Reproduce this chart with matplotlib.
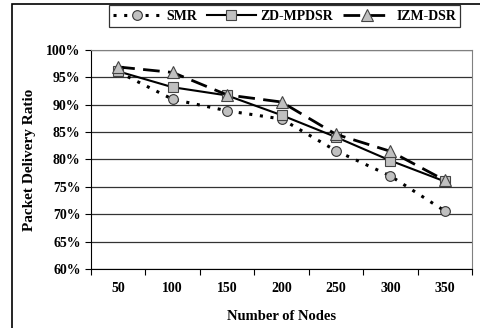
import numpy as np
import matplotlib
matplotlib.use("Agg")
import matplotlib.pyplot as plt
from matplotlib.patches import Rectangle

nodes = ["50", "100", "150", "200", "250", "300", "350"]
smr = [96.0, 91.0, 88.9, 87.4, 81.6, 77.0, 70.6]
zd_mpdsr = [96.1, 93.2, 91.7, 88.1, 84.1, 79.8, 76.0]
izm_dsr = [96.9, 95.9, 91.8, 90.5, 84.6, 81.5, 76.2]

plt.rcParams['font.family'] = ['Liberation Serif', 'DejaVu Serif']
plt.rcParams['font.weight'] = 'bold'

fig = plt.figure(figsize=(4.8, 3.28), dpi=100)
ax = fig.add_axes([91/480, 1-269/328, (472-91)/480, (269-50)/328])

x = np.arange(len(nodes))
mfc = '#c0c0c0'
ax.plot(x, smr, color='black', linestyle=(0, (1, 2.5)), linewidth=2.2,
        marker='o', markersize=7, markerfacecolor=mfc, markeredgecolor='#333333',
        markeredgewidth=0.8, label='SMR', zorder=3)
ax.plot(x, zd_mpdsr, color='black', linestyle='-', linewidth=1.5,
        marker='s', markersize=7, markerfacecolor=mfc, markeredgecolor='#444444',
        markeredgewidth=0.8, label='ZD-MPDSR', zorder=4)
ax.plot(x, izm_dsr, color='black', linestyle=(0, (6, 3)), linewidth=2.0,
        marker='^', markersize=8, markerfacecolor=mfc, markeredgecolor='#444444',
        markeredgewidth=0.8, label='IZM-DSR', zorder=5)

ax.set_xlim(-0.5, len(nodes) - 0.5)
ax.set_ylim(60, 100)
ax.set_xticks(np.arange(-0.5, len(nodes), 1.0))
ax.set_xticklabels([])
ax.set_xticks(x, minor=True)
ax.set_xticklabels(nodes, minor=True)
ax.tick_params(axis='x', which='minor', length=0, pad=9, labelsize=10)
ax.tick_params(axis='x', which='major', length=4, direction='out', width=0.8)
yt = np.arange(60, 101, 5)
ax.set_yticks(yt)
ax.set_yticklabels([f"{v}%" for v in yt])
ax.tick_params(axis='y', length=4, direction='out', width=0.8, labelsize=10)

ax.yaxis.grid(True, color='#333333', linewidth=0.9)
ax.set_axisbelow(True)
ax.spines['top'].set_color('#808080')
ax.spines['right'].set_color('#808080')
ax.spines['left'].set_color('black')
ax.spines['bottom'].set_color('black')

ax.set_xlabel('Number of Nodes', fontsize=10.5, fontweight='bold', labelpad=11)
ax.set_ylabel('Packet Delivery Ratio', fontsize=11, fontweight='bold', labelpad=7)

leg = fig.legend(loc='center', bbox_to_anchor=(284.5/480, 1-16/328), ncol=3,
                 handlelength=3.5, columnspacing=0.7, handletextpad=0.35,
                 fontsize=10, frameon=True, fancybox=False, borderpad=0.3)
leg.get_frame().set_edgecolor('black')
leg.get_frame().set_linewidth(0.9)

fig.patches.append(Rectangle((12/480, -0.05), 1.1, 1 - 4/328 + 0.05,
                             transform=fig.transFigure, fill=False,
                             edgecolor='black', linewidth=1.2))

fig.savefig('out.png', dpi=100)
